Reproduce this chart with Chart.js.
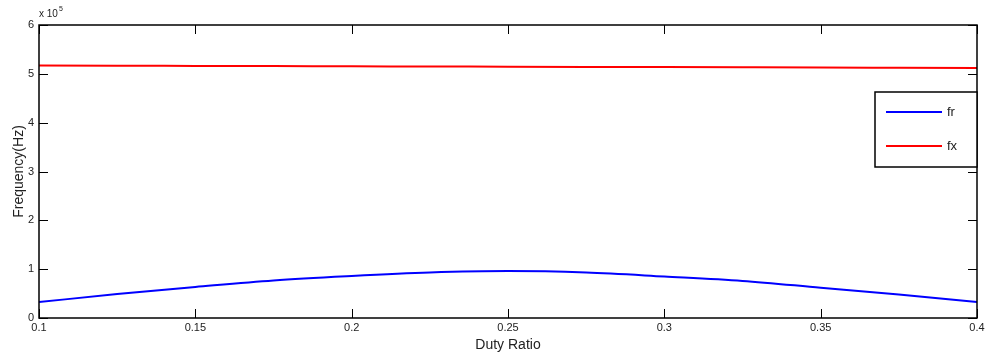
<!DOCTYPE html>
<html>
<head>
<meta charset="utf-8">
<script src="https://cdn.jsdelivr.net/npm/chart.js@4/dist/chart.umd.min.js"></script>
<style>
  html, body { margin: 0; padding: 0; background: #fff; }
  #wrap { width: 985px; height: 354px; position: relative; }
</style>
</head>
<body>
<div id="wrap"><canvas id="freqChart"></canvas></div>
<script>
// duty ratio samples
const dutyRatio = [0.1, 0.125, 0.15, 0.175, 0.2, 0.225, 0.25, 0.275, 0.3, 0.325, 0.35, 0.375, 0.4];
// frequencies, in units of 1e5 Hz
const fr = [0.326, 0.49, 0.635, 0.77, 0.86, 0.93, 0.96, 0.93, 0.85, 0.76, 0.62, 0.48, 0.326];
const fx = [5.17, 5.166, 5.162, 5.158, 5.154, 5.15, 5.146, 5.142, 5.138, 5.134, 5.13, 5.125, 5.12];
const seriesNames = ['fr', 'fx'];
const seriesColors = ['#0000ff', '#ff0000'];
const xTicks = [0.1, 0.15, 0.2, 0.25, 0.3, 0.35, 0.4];
const yTicks = [0, 1, 2, 3, 4, 5, 6];

const font = 'Liberation Sans, Arial, Helvetica, sans-serif';

// matlab-like box, inward ticks, exponent label and legend
const matlabBox = {
    id: 'matlabBox',
    afterDraw(chart) {
        const ctx = chart.ctx;
        const a = chart.chartArea;
        const xs = chart.scales.x, ys = chart.scales.y;
        ctx.save();
        ctx.strokeStyle = '#000';
        ctx.lineWidth = 1;
        ctx.beginPath();
        xTicks.forEach(v => {
            const px = Math.round(xs.getPixelForValue(v)) + 0.5;
            ctx.moveTo(px, a.bottom); ctx.lineTo(px, a.bottom - 9);
            ctx.moveTo(px, a.top); ctx.lineTo(px, a.top + 9);
        });
        yTicks.forEach(v => {
            const py = Math.round(ys.getPixelForValue(v)) + 0.5;
            ctx.moveTo(a.left, py); ctx.lineTo(a.left + 9, py);
            ctx.moveTo(a.right, py); ctx.lineTo(a.right - 9, py);
        });
        ctx.stroke();
        ctx.lineWidth = 1.5;
        ctx.strokeRect(a.left, a.top, a.right - a.left, a.bottom - a.top);

        // exponent
        ctx.fillStyle = '#222';
        ctx.font = '10px ' + font;
        ctx.textBaseline = 'alphabetic';
        ctx.fillText('x 10', a.left, a.top - 8);
        ctx.font = '7px ' + font;
        ctx.fillText('5', a.left + 20, a.top - 14);

        // legend
        const lx = 875, ly = 92, lw = 102, lh = 75;
        ctx.fillStyle = '#fff';
        ctx.fillRect(lx, ly, lw, lh);
        ctx.lineWidth = 1.5;
        ctx.strokeStyle = '#000';
        ctx.strokeRect(lx, ly, lw, lh);
        ctx.font = '13px ' + font;
        ctx.textBaseline = 'middle';
        seriesNames.forEach((name, i) => {
            const y = ly + 20 + i * 34;
            ctx.strokeStyle = seriesColors[i];
            ctx.lineWidth = 2;
            ctx.beginPath();
            ctx.moveTo(lx + 11, y); ctx.lineTo(lx + 67, y);
            ctx.stroke();
            ctx.fillStyle = '#222';
            ctx.fillText(name, lx + 72, y);
        });
        ctx.restore();
    }
};

new Chart(document.getElementById('freqChart'), {
    type: 'line',
    data: {
        datasets: [
            {
                label: seriesNames[0],
                data: dutyRatio.map((d, i) => ({ x: d, y: fr[i] })),
                borderColor: seriesColors[0],
                borderWidth: 2,
                pointRadius: 0,
                cubicInterpolationMode: 'monotone'
            },
            {
                label: seriesNames[1],
                data: dutyRatio.map((d, i) => ({ x: d, y: fx[i] })),
                borderColor: seriesColors[1],
                borderWidth: 2,
                pointRadius: 0,
                cubicInterpolationMode: 'monotone'
            }
        ]
    },
    options: {
        responsive: true,
        maintainAspectRatio: false,
        animation: false,
        layout: { padding: { top: 25, right: 8, left: 0, bottom: 0 } },
        plugins: {
            legend: { display: false },
            tooltip: { enabled: false }
        },
        scales: {
            x: {
                type: 'linear',
                min: 0.1,
                max: 0.4,
                afterBuildTicks: s => { s.ticks = xTicks.map(v => ({ value: v })); },
                afterFit: s => { s.height = 36; s.paddingRight = 0; s.paddingLeft = 0; },
                grid: { display: false, drawTicks: false },
                border: { display: false },
                ticks: {
                    padding: 3,
                    color: '#222',
                    font: { family: font, size: 11 },
                    maxRotation: 0,
                    callback: v => String(+v.toFixed(2))
                },
                title: {
                    display: true,
                    text: 'Duty Ratio',
                    color: '#222',
                    font: { family: font, size: 14 },
                    padding: { top: 0, bottom: 0 }
                }
            },
            y: {
                min: 0,
                max: 6,
                afterBuildTicks: s => { s.ticks = yTicks.map(v => ({ value: v })); },
                afterFit: s => { s.width = 39; },
                grid: { display: false, drawTicks: false },
                border: { display: false },
                ticks: {
                    padding: 5,
                    color: '#222',
                    font: { family: font, size: 11 },
                    callback: v => String(v)
                },
                title: {
                    display: true,
                    text: 'Frequency(Hz)',
                    color: '#222',
                    font: { family: font, size: 14 },
                    padding: { top: 11, bottom: 0 }
                }
            }
        }
    },
    plugins: [matlabBox]
});
</script>
</body>
</html>
